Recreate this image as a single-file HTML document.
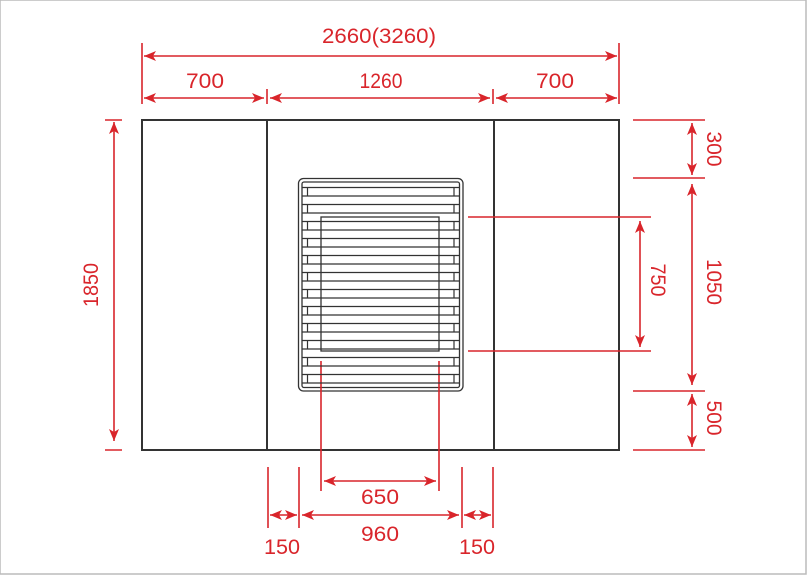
<!DOCTYPE html>
<html><head><meta charset="utf-8"><style>
html,body{margin:0;padding:0;background:#fff;}
svg{display:block;}
text{font-family:"Liberation Sans",sans-serif;font-size:21px;fill:#d9252b;}
</style></head><body>
<svg width="807" height="575" viewBox="0 0 807 575" xmlns="http://www.w3.org/2000/svg">
<defs>
<marker id="a" viewBox="0 0 12 10" refX="12" refY="5" markerWidth="12" markerHeight="10" markerUnits="userSpaceOnUse" orient="auto-start-reverse">
<path d="M0,0 L12,5 L0,10 L3,5 Z" fill="#d9252b"/></marker>
</defs>
<rect x="0" y="0" width="806" height="574" fill="#fff" stroke="#bbb" stroke-width="1.5"/>
<g fill="none" stroke="#333" stroke-width="2">
<rect x="142" y="120" width="477" height="330"/>
<line x1="267" y1="120" x2="267" y2="450"/>
<line x1="494" y1="120" x2="494" y2="450"/>
</g>
<g fill="none" stroke="#333" stroke-width="1.3">
<rect x="298.5" y="178.5" width="164.5" height="212.5" rx="5"/>
<rect x="302" y="182" width="157.5" height="205.5" rx="2"/>
<rect x="321" y="217" width="118" height="134"/>
</g>
<g stroke="#d9252b" stroke-width="1.6" fill="none">
<line x1="142" y1="43" x2="142" y2="104"/><line x1="619" y1="43" x2="619" y2="104"/>
<line x1="267" y1="89" x2="267" y2="104"/><line x1="493" y1="89" x2="493" y2="104"/>
<line x1="144" y1="56" x2="617" y2="56" marker-start="url(#a)" marker-end="url(#a)"/>
<line x1="144" y1="98" x2="264" y2="98" marker-start="url(#a)" marker-end="url(#a)"/>
<line x1="270" y1="98" x2="490" y2="98" marker-start="url(#a)" marker-end="url(#a)"/>
<line x1="496" y1="98" x2="617" y2="98" marker-start="url(#a)" marker-end="url(#a)"/>
<line x1="105" y1="120" x2="122" y2="120"/><line x1="105" y1="450" x2="122" y2="450"/>
<line x1="114" y1="122" x2="114" y2="441" marker-start="url(#a)" marker-end="url(#a)"/>
<line x1="633" y1="120" x2="705" y2="120"/><line x1="633" y1="178" x2="705" y2="178"/>
<line x1="633" y1="391" x2="705" y2="391"/><line x1="633" y1="450" x2="705" y2="450"/>
<line x1="692" y1="123" x2="692" y2="175" marker-start="url(#a)" marker-end="url(#a)"/>
<line x1="692" y1="184" x2="692" y2="385" marker-start="url(#a)" marker-end="url(#a)"/>
<line x1="692" y1="394" x2="692" y2="447" marker-start="url(#a)" marker-end="url(#a)"/>
<line x1="468" y1="217" x2="651" y2="217"/><line x1="468" y1="351" x2="651" y2="351"/>
<line x1="640" y1="221" x2="640" y2="347" marker-start="url(#a)" marker-end="url(#a)"/>
<line x1="321" y1="361" x2="321" y2="491"/><line x1="439" y1="361" x2="439" y2="491"/>
<line x1="324" y1="481" x2="436" y2="481" marker-start="url(#a)" marker-end="url(#a)"/>
<line x1="268" y1="467" x2="268" y2="528"/><line x1="299" y1="467" x2="299" y2="528"/>
<line x1="462" y1="467" x2="462" y2="528"/><line x1="493" y1="467" x2="493" y2="528"/>
<line x1="270" y1="515" x2="297" y2="515" marker-start="url(#a)" marker-end="url(#a)"/>
<line x1="302" y1="515" x2="459" y2="515" marker-start="url(#a)" marker-end="url(#a)"/>
<line x1="464" y1="515" x2="491" y2="515" marker-start="url(#a)" marker-end="url(#a)"/>
</g>
<g text-anchor="middle">
<text x="379" y="43" textLength="114" lengthAdjust="spacingAndGlyphs">2660(3260)</text>
<text x="205" y="88" textLength="38" lengthAdjust="spacingAndGlyphs">700</text>
<text x="381" y="88" textLength="43" lengthAdjust="spacingAndGlyphs">1260</text>
<text x="555" y="88" textLength="38" lengthAdjust="spacingAndGlyphs">700</text>
<text x="380" y="504" textLength="38" lengthAdjust="spacingAndGlyphs">650</text>
<text x="380" y="541" textLength="38" lengthAdjust="spacingAndGlyphs">960</text>
<text x="282" y="554" textLength="36" lengthAdjust="spacingAndGlyphs">150</text>
<text x="477" y="554" textLength="36" lengthAdjust="spacingAndGlyphs">150</text>
<text transform="translate(98,285) rotate(-90)" textLength="44" lengthAdjust="spacingAndGlyphs">1850</text>
<text transform="translate(707,149) rotate(90)" textLength="35" lengthAdjust="spacingAndGlyphs">300</text>
<text transform="translate(707,282) rotate(90)" textLength="46" lengthAdjust="spacingAndGlyphs">1050</text>
<text transform="translate(707,418) rotate(90)" textLength="35" lengthAdjust="spacingAndGlyphs">500</text>
<text transform="translate(651,280) rotate(90)" textLength="33" lengthAdjust="spacingAndGlyphs">750</text>
</g>
<g stroke="#333" stroke-width="1.2">
<line x1="302" y1="187.5" x2="459" y2="187.5"/><line x1="302" y1="196" x2="459" y2="196"/>
<line x1="302" y1="204.5" x2="459" y2="204.5"/><line x1="302" y1="213" x2="459" y2="213"/>
<line x1="302" y1="221.5" x2="459" y2="221.5"/><line x1="302" y1="230" x2="459" y2="230"/>
<line x1="302" y1="238.5" x2="459" y2="238.5"/><line x1="302" y1="247" x2="459" y2="247"/>
<line x1="302" y1="255.5" x2="459" y2="255.5"/><line x1="302" y1="264" x2="459" y2="264"/>
<line x1="302" y1="272.5" x2="459" y2="272.5"/><line x1="302" y1="281" x2="459" y2="281"/>
<line x1="302" y1="289.5" x2="459" y2="289.5"/><line x1="302" y1="298" x2="459" y2="298"/>
<line x1="302" y1="306.5" x2="459" y2="306.5"/><line x1="302" y1="315" x2="459" y2="315"/>
<line x1="302" y1="323.5" x2="459" y2="323.5"/><line x1="302" y1="332" x2="459" y2="332"/>
<line x1="302" y1="340.5" x2="459" y2="340.5"/><line x1="302" y1="349" x2="459" y2="349"/>
<line x1="302" y1="357.5" x2="459" y2="357.5"/><line x1="302" y1="366" x2="459" y2="366"/>
<line x1="302" y1="374.5" x2="459" y2="374.5"/><line x1="302" y1="383" x2="459" y2="383"/>
<path d="M307.5 187.5V196M307.5 204.5V213M307.5 221.5V230M307.5 238.5V247M307.5 255.5V264M307.5 272.5V281M307.5 289.5V298M307.5 306.5V315M307.5 323.5V332M307.5 340.5V349M307.5 357.5V366M307.5 374.5V383"/>
<path d="M454 187.5V196M454 204.5V213M454 221.5V230M454 238.5V247M454 255.5V264M454 272.5V281M454 289.5V298M454 306.5V315M454 323.5V332M454 340.5V349M454 357.5V366M454 374.5V383"/>
</g>
</svg>
</body></html>
